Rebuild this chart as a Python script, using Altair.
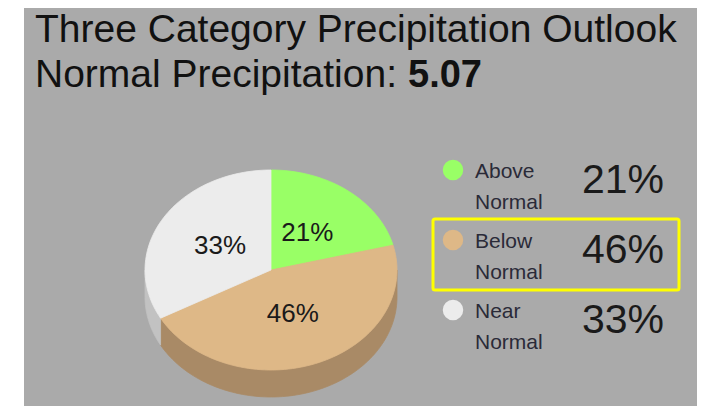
import numpy as np
import pandas as pd
import altair as alt

# ---- data ----
categories = ["Above Normal", "Below Normal", "Near Normal"]
shares = [21, 46, 33]
title_line1 = "Three Category Precipitation Outlook"
title_line2 = "Normal Precipitation: "
normal_value = "5.07"
highlight = "Below Normal"

# ---- styles ----
top_colors = ["#99ff66", "#deb887", "#ececec"]
side_colors = ["#7fcc55", "#a98a66", "#c2c2c2"]
panel_color = "#aaaaaa"
FONT = "Liberation Sans"

# ---- geometry (chart pixels) ----
W, H = 695, 398
CX, CY = 263, 262          # pie centre
RX, RY, DEPTH = 126, 100, 27

# build elliptical pie polygons from the shares
top_rows, side_rows, lab_rows = [], [], []
total = float(sum(shares))
start = 0.0
for cat, s in zip(categories, shares):
    a0 = start / total * 2 * np.pi
    a1 = (start + s) / total * 2 * np.pi
    n = max(int(s * 2), 10)
    th = np.linspace(a0, a1, n)
    pts = [(0.0, 0.0)] + [(RX * np.sin(t), -RY * np.cos(t)) for t in th] + [(0.0, 0.0)]
    for i, (x, y) in enumerate(pts):
        top_rows.append(dict(cat=cat, i=i, x=x, y=y))
    lo, hi = max(a0, np.pi / 2), min(a1, 3 * np.pi / 2)
    if hi > lo:
        th2 = np.linspace(lo, hi, n)
        up = [(RX * np.sin(t), -RY * np.cos(t)) for t in th2]
        dn = [(RX * np.sin(t), -RY * np.cos(t) + DEPTH) for t in th2[::-1]]
        for i, (x, y) in enumerate(up + dn + [up[0]]):
            side_rows.append(dict(cat=cat, i=i, x=x, y=y))
    mid = (a0 + a1) / 2
    lab_rows.append(dict(cat=cat, x=0.47 * RX * np.sin(mid), y=-0.47 * RY * np.cos(mid),
                         label=f"{s}%"))
    start += s

top_df = pd.DataFrame(top_rows)
side_df = pd.DataFrame(side_rows)
lab_df = pd.DataFrame(lab_rows)

leg_df = pd.DataFrame({
    "cat": categories,
    "share": shares,
    "idx": list(range(len(categories))),
})
leg_df["ly"] = -100 + 70 * leg_df["idx"]
leg_df["name"] = leg_df["cat"].str.replace(" ", "\n")
leg_df["pct"] = leg_df["share"].astype(str) + "%"

xs = alt.Scale(domain=[-CX, W - CX], nice=False, zero=False)
ys = alt.Scale(domain=[-CY, H - CY], nice=False, zero=False, reverse=True)
X = lambda f: alt.X(f, scale=xs, axis=None)
Y = lambda f: alt.Y(f, scale=ys, axis=None)

one = pd.DataFrame({"k": [0]})

panel = alt.Chart(one).mark_rect(fill=panel_color).encode(
    x=alt.value(16), x2=alt.value(689), y=alt.value(0), y2=alt.value(H)
)

t1 = alt.Chart(pd.DataFrame({"t": [title_line1]})).mark_text(
    align="left", baseline="alphabetic", font=FONT, fontSize=39, color="#111111"
).encode(x=alt.value(27), y=alt.value(34), text="t:N")
t2 = alt.Chart(pd.DataFrame({"t": [title_line2]})).mark_text(
    align="left", baseline="alphabetic", font=FONT, fontSize=39, color="#111111"
).encode(x=alt.value(27), y=alt.value(79), text="t:N")
t3 = alt.Chart(pd.DataFrame({"t": [normal_value]})).mark_text(
    align="left", baseline="alphabetic", font=FONT, fontSize=38, fontWeight="bold",
    color="#111111"
).encode(x=alt.value(400), y=alt.value(79), text="t:N")

sides = alt.Chart(side_df).mark_line(filled=True, strokeWidth=0.8).encode(
    x=X("x:Q"), y=Y("y:Q"), order="i:Q",
    fill=alt.Fill("cat:N", scale=alt.Scale(domain=categories, range=side_colors), legend=None),
    stroke=alt.Stroke("cat:N", scale=alt.Scale(domain=categories, range=side_colors), legend=None),
)
tops = alt.Chart(top_df).mark_line(filled=True, strokeWidth=0.8).encode(
    x=X("x:Q"), y=Y("y:Q"), order="i:Q",
    fill=alt.Fill("cat:N", scale=alt.Scale(domain=categories, range=top_colors), legend=None),
    stroke=alt.Stroke("cat:N", scale=alt.Scale(domain=categories, range=top_colors), legend=None),
)
pie_labels = alt.Chart(lab_df).mark_text(
    font=FONT, fontSize=26, color="#1a1a1a", baseline="middle", align="center"
).encode(x=X("x:Q"), y=Y("y:Q"), text="label:N")

box = alt.Chart(leg_df[leg_df["cat"] == highlight]).transform_calculate(
    y0="datum.ly - 21", y1="datum.ly + 50"
).mark_rect(filled=False, color="#ffff00", strokeWidth=3, cornerRadius=2).encode(
    x=alt.value(425), x2=alt.value(671), y=Y("y0:Q"), y2="y1:Q"
)

dots = alt.Chart(leg_df).mark_circle(size=420, opacity=1).encode(
    x=alt.value(445), y=Y("ly:Q"),
    color=alt.Color("cat:N", scale=alt.Scale(domain=categories, range=top_colors), legend=None),
)
names = alt.Chart(leg_df).transform_calculate(ty="datum.ly + 8").mark_text(
    align="left", baseline="alphabetic", font=FONT, fontSize=21, color="#2a2a38",
    lineBreak="\n", lineHeight=31
).encode(x=alt.value(467), y=Y("ty:Q"), text="name:N")
pcts = alt.Chart(leg_df).transform_calculate(ty="datum.ly + 23").mark_text(
    align="center", baseline="alphabetic", font=FONT, fontSize=41, color="#1a1a1a"
).encode(x=alt.value(615), y=Y("ty:Q"), text="pct:N")

chart = alt.layer(
    panel, t1, t2, t3, sides, tops, pie_labels, box, dots, names, pcts
).resolve_scale(
    fill="independent", stroke="independent", color="independent"
).properties(
    width=W, height=H, padding=0, autosize=alt.AutoSizeParams(type="none"),
    background="white"
).configure_view(stroke=None)

chart.save("out.html", embed_options={"renderer": "svg", "actions": False})
